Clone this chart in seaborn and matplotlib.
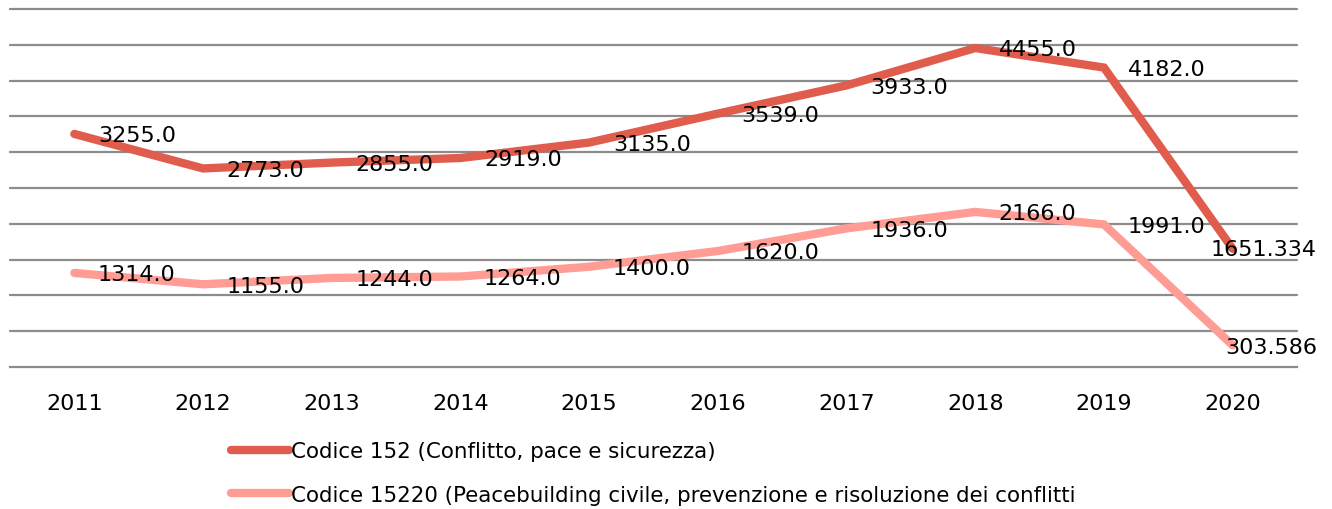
import numpy as np
import pandas as pd
import matplotlib
matplotlib.use("Agg")
import matplotlib.pyplot as plt
import seaborn as sns

years = ["2011", "2012", "2013", "2014", "2015", "2016", "2017", "2018", "2019", "2020"]
codice_152 = [3255.0, 2773.0, 2855.0, 2919.0, 3135.0, 3539.0, 3933.0, 4455.0, 4182.0, 1651.334]
codice_15220 = [1314.0, 1155.0, 1244.0, 1264.0, 1400.0, 1620.0, 1936.0, 2166.0, 1991.0, 303.586]
label_152 = ["3255.0", "2773.0", "2855.0", "2919.0", "3135.0", "3539.0", "3933.0", "4455.0", "4182.0", "1651.334"]
label_15220 = ["1314.0", "1155.0", "1244.0", "1264.0", "1400.0", "1620.0", "1936.0", "2166.0", "1991.0", "303.586"]
series_names = ["Codice 152 (Conflitto, pace e sicurezza)",
                "Codice 15220 (Peacebuilding civile, prevenzione e risoluzione dei conflitti"]
colors = ["#E05C4D", "#FF9D95"]


def main() -> None:
    sns.set_style("white")
    plt.rcParams['font.family'] = ['DejaVu Sans']

    pos = np.arange(len(years))
    df = pd.DataFrame({
        "pos": np.concatenate([pos, pos]),
        "value": codice_152 + codice_15220,
        "serie": [series_names[0]] * len(years) + [series_names[1]] * len(years),
    })

    fig = plt.figure(figsize=(13.32, 5.10), dpi=100)
    ax = fig.add_axes([10 / 1332, 1 - 368 / 510, 1287 / 1332, 358 / 510])

    sns.lineplot(data=df, x="pos", y="value", hue="serie", palette=colors,
                 linewidth=6, ax=ax, legend=False, sort=False,
                 solid_capstyle="round", solid_joinstyle="miter")

    # last point labels are pulled back so they stay inside the figure
    last_offset = {0: (-16, 0), 1: (-5, -1)}
    for k, (vals, labs) in enumerate([(codice_152, label_152), (codice_15220, label_15220)]):
        for p, v, t in zip(pos, vals, labs):
            off = last_offset[k] if p == pos[-1] else (17, -1)
            ax.annotate(t, (p, v), xytext=off, textcoords="offset points",
                        ha="left", va="center", fontsize=16, color="black",
                        annotation_clip=False)

    ax.set_xlim(-0.5, len(years) - 0.5)
    ax.set_ylim(0, 5000)
    ax.set_yticks(np.arange(500, 5001, 500))
    ax.set_yticklabels([])
    ax.tick_params(axis="y", length=0)
    ax.yaxis.grid(True, color="#8C8C8C", linewidth=1.6)
    for gl in ax.get_ygridlines():
        gl.set_clip_on(False)
    ax.set_axisbelow(True)

    ax.set_xticks(pos)
    ax.set_xticklabels(years, fontsize=16, color="black")
    ax.set_xticks(np.arange(-0.5, len(years)), minor=True)
    ax.tick_params(axis="x", which="major", length=0, pad=19)
    ax.tick_params(axis="x", which="minor", length=7, width=1.5, color="#8C8C8C")
    ax.set_xlabel("")
    ax.set_ylabel("")

    for s in ["top", "right", "left"]:
        ax.spines[s].set_visible(False)
    ax.spines["bottom"].set_color("#8C8C8C")
    ax.spines["bottom"].set_linewidth(1.6)

    handles = [plt.Line2D([0], [0], color=c, linewidth=6, solid_capstyle="round") for c in colors]
    fig.legend(handles, series_names, loc="upper left", bbox_to_anchor=(231 / 1332, 1 - 442 / 510),
               frameon=False, fontsize=15.4, handlelength=2.7, handletextpad=0.1,
               labelspacing=1.1, borderaxespad=0, borderpad=0, labelcolor="black")

    fig.savefig("out.png", dpi=100)


if __name__ == "__main__":
    main()
